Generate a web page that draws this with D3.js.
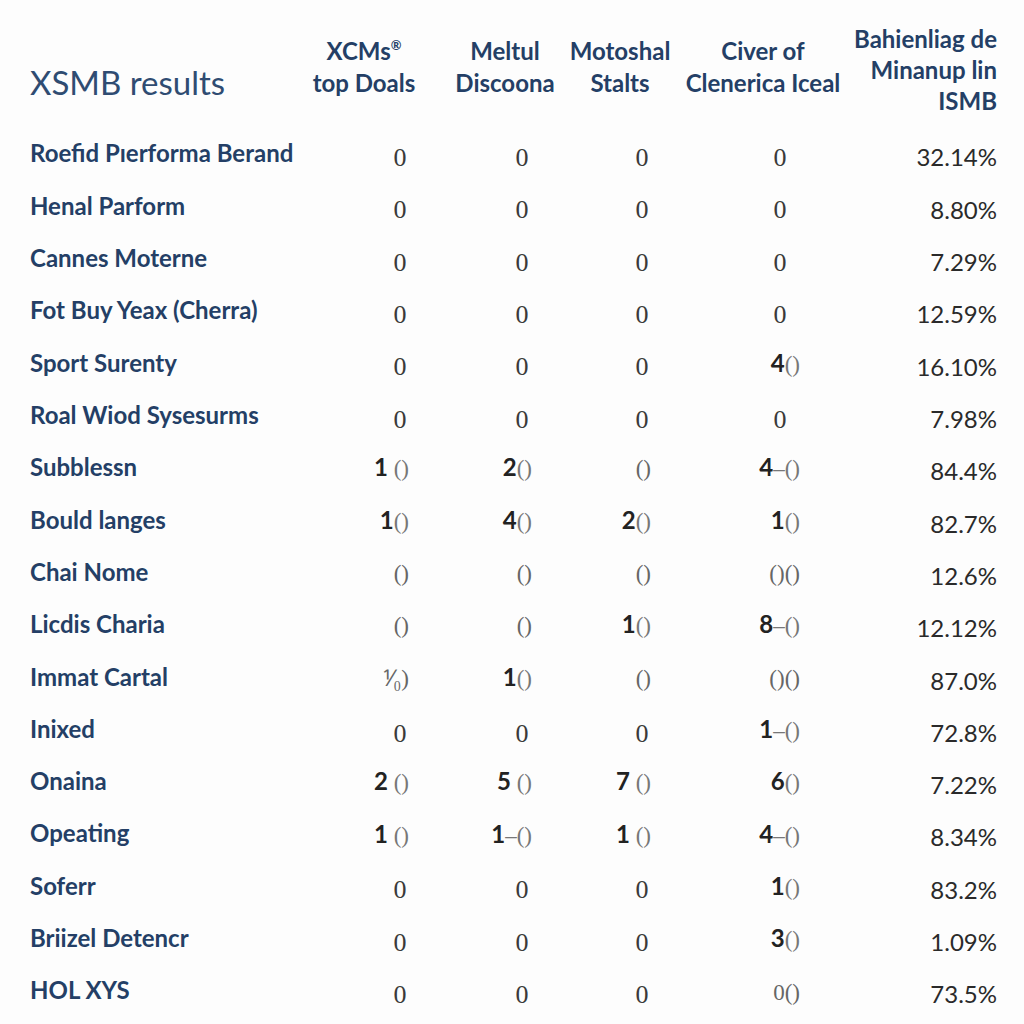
<!DOCTYPE html>
<html><head><meta charset="utf-8">
<script src="https://cdn.jsdelivr.net/npm/d3@7"></script>
<style>html,body{margin:0;padding:0;background:#fdfdfd;}</style>
</head><body>
<svg id="chart" width="1024" height="1024"></svg>
<script>
const title = "XSMB results";
const columnKeys = ["c1","c2","c3","c4","c5"];
const columnHeaders = [
  ["XCMs®", "top Doals"],
  ["Meltul", "Discoona"],
  ["Motoshal", "Stalts"],
  ["Civer of", "Clenerica Iceal"],
  ["Bahienliag de", "Minanup lin", "ISMB"]
];
const rowLabels = [
  "Roefid Pıerforma Berand","Henal Parform","Cannes Moterne","Fot Buy Yeax (Cherra)",
  "Sport Surenty","Roal Wiod Sysesurms","Subblessn","Bould langes","Chai Nome",
  "Licdis Charia","Immat Cartal","Inixed","Onaina","Opeating","Soferr",
  "Briizel Detencr","HOL XYS"
];
const col1 = ["0","0","0","0","0","0","1 ()","1()","()","()","⅟₀)","0","2 ()","1 ()","0","0","0"];
const col2 = ["0","0","0","0","0","0","2()","4()","()","()","1()","0","5 ()","1–()","0","0","0"];
const col3 = ["0","0","0","0","0","0","()","2()","()","1()","()","0","7 ()","1 ()","0","0","0"];
const col4 = ["0","0","0","0","4()","0","4–()","1()","()()","8–()","()()","1–()","6()","4–()","1()","3()","0()"];
const pctValues = ["32.14%","8.80%","7.29%","12.59%","16.10%","7.98%","84.4%","82.7%","12.6%","12.12%","87.0%","72.8%","7.22%","8.34%","83.2%","1.09%","73.5%"];

const svg = d3.select("#chart");
const navy = "#243f66";
const font = "Lato, 'Open Sans', sans-serif";

// scales
const y = d3.scalePoint().domain(rowLabels).range([154, 991]);
const xCenter = d3.scaleOrdinal().domain(columnKeys.slice(0,4)).range([400, 522, 642, 780]);
const xRight = d3.scaleOrdinal().domain(columnKeys.slice(0,4)).range([409, 532, 651, 800]);
const headerX = d3.scaleOrdinal().domain(columnKeys).range([364, 505, 620, 763, 997]);

// title
svg.append("text").attr("x", 30).attr("y", 95)
  .attr("font-family", font).attr("font-size", 33).attr("fill", "#2f4c72")
  .text(title);

// headers
columnHeaders.forEach((lines, i) => {
  const key = columnKeys[i];
  const last = i === 4;
  const baseY = last ? 48 : 60;
  const step = last ? 31 : 32;
  const t = svg.append("text")
    .attr("font-family", font).attr("font-size", 24).attr("font-weight", 700)
    .attr("fill", navy).attr("text-anchor", last ? "end" : "middle");
  lines.forEach((ln, j) => {
    const ts = t.append("tspan").attr("x", headerX(key)).attr("y", baseY + j * step);
    if (ln.includes("®")) {
      ts.append("tspan").text(ln.replace("®",""));
      ts.append("tspan").attr("font-size", 13).attr("dy", -10).text("®");
    } else ts.text(ln);
  });
});

// row labels
svg.append("g").selectAll("text").data(rowLabels).join("text")
  .attr("x", 30).attr("y", d => y(d)).attr("dy", "0.35em")
  .attr("font-family", font).attr("font-size", 24).attr("font-weight", 700)
  .attr("fill", navy).text(d => d);

// cells
const cols = [col1, col2, col3, col4];
cols.forEach((vals, ci) => {
  const key = columnKeys[ci];
  const g = svg.append("g");
  vals.forEach((v, ri) => {
    const yy = y(rowLabels[ri]) + 3;
    if (v === "0") {
      g.append("text").attr("x", xCenter(key)).attr("y", yy).attr("dy", "0.35em")
        .attr("text-anchor", "middle").attr("font-family", "'Liberation Serif', serif")
        .attr("font-size", 26).attr("fill", "#3a3a3a").text(v);
      return;
    }
    const m = v.match(/^([1-9])(\s?)(.*)$/);
    const t = g.append("text").attr("x", xRight(key)).attr("y", yy).attr("dy", "0.35em")
      .attr("text-anchor", "end");
    if (m) {
      t.append("tspan").attr("font-family", font).attr("font-weight", 700)
        .attr("font-size", 24).attr("fill", "#222").text(m[1] + (m[2] ? "\u00a0" : ""));
      t.append("tspan").attr("font-family", "'Liberation Serif', serif")
        .attr("font-size", 23).attr("fill", "#777").text(m[3]);
    } else {
      t.append("tspan").attr("font-family", "'Liberation Serif', serif")
        .attr("font-size", 23).attr("fill", "#666").text(v);
    }
  });
});

// percentage column
svg.append("g").selectAll("text").data(pctValues).join("text")
  .attr("x", 997).attr("y", (d, i) => y(rowLabels[i]) + 4).attr("dy", "0.35em")
  .attr("text-anchor", "end").attr("font-family", font).attr("font-size", 24)
  .attr("fill", "#2a2a2a").text(d => d);
</script>
</body></html>
